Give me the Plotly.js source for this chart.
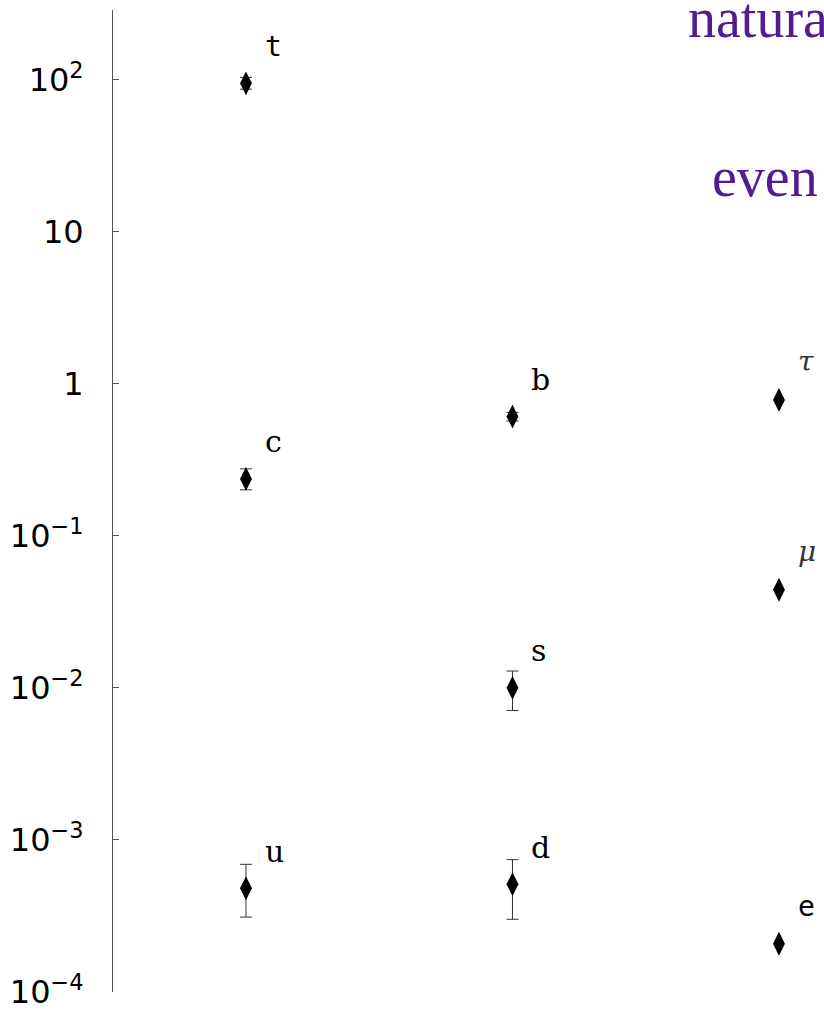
<!DOCTYPE html>
<html>
<head>
<meta charset="utf-8">
<script src="https://cdn.plot.ly/plotly-3.0.1.min.js"></script>
<style>html,body{margin:0;padding:0;background:#fff;}#chart{width:824px;height:1009px;}</style>
</head>
<body>
<div id="chart"></div>
<script>
// Quarks (with error bars)
const quarkNames = ['t', 'c', 'u', 'b', 's', 'd'];
const quarkColumn = [1, 1, 1, 2, 2, 2];
const quarkMass = [95, 0.237, 0.00048, 0.61, 0.0100, 0.00051];
const quarkErrPlus = [9, 0.039, 0.00021, 0.04, 0.0029, 0.00023];
const quarkErrMinus = [8, 0.036, 0.00017, 0.04, 0.0029, 0.00021];

// Leptons (no error bars)
const leptonNames = ['τ', 'μ', 'e'];
const leptonColumn = [3, 3, 3];
const leptonMass = [0.785, 0.0442, 0.000207];

// Axis ticks
const tickValues = [100, 10, 1, 0.1, 0.01, 0.001, 0.0001];
const tickLabels = ['10<sup>2</sup>', '10', '1', '10<sup>−1</sup>', '10<sup>−2</sup>', '10<sup>−3</sup>', '10<sup>−4</sup>'];

// Overlay words
const overlayWords = ['natural', 'even'];

const quarkFonts = {t: 'DejaVu Sans Mono', c: 'DejaVu Serif', u: 'DejaVu Serif', b: 'DejaVu Serif', s: 'DejaVu Serif', d: 'DejaVu Serif'};

const traces = [
  {
    x: quarkColumn, y: quarkMass, type: 'scatter', mode: 'markers',
    marker: {symbol: 'diamond-tall', size: 17, color: '#000'},
    error_y: {type: 'data', symmetric: false, array: quarkErrPlus, arrayminus: quarkErrMinus,
              color: '#333', thickness: 1, width: 6},
    hoverinfo: 'skip', showlegend: false, cliponaxis: false
  },
  {
    x: leptonColumn, y: leptonMass, type: 'scatter', mode: 'markers',
    marker: {symbol: 'diamond-tall', size: 17, color: '#000'},
    hoverinfo: 'skip', showlegend: false, cliponaxis: false
  }
];

const annotations = [];
quarkNames.forEach((n, i) => {
  annotations.push({x: quarkColumn[i], y: Math.log10(quarkMass[i]), text: n, showarrow: false,
    xanchor: 'left', yanchor: 'middle', xshift: 17, yshift: 37,
    font: {family: quarkFonts[n], size: n === 't' ? 28 : 30, color: '#000'}});
});
leptonNames.forEach((n, i) => {
  const isGreek = n !== 'e';
  annotations.push({x: leptonColumn[i], y: Math.log10(leptonMass[i]), text: isGreek ? '<i>' + n + '</i>' : n, showarrow: false,
    xanchor: 'left', yanchor: 'middle', xshift: 17, yshift: isGreek ? 38 : 37,
    font: {family: isGreek ? 'DejaVu Serif' : 'DejaVu Sans Mono', size: 28, color: isGreek ? '#333' : '#000'}});
});
annotations.push({xref: 'paper', yref: 'paper', x: (686 - 113) / 711, y: (1009 - 17 - 38) / 982, text: overlayWords[0],
  showarrow: false, xanchor: 'left', yanchor: 'bottom', yshift: -13,
  font: {family: 'Liberation Serif', size: 56, color: '#521b92'}});
annotations.push({xref: 'paper', yref: 'paper', x: (710 - 113) / 711, y: (1009 - 17 - 197) / 982, text: overlayWords[1],
  showarrow: false, xanchor: 'left', yanchor: 'bottom', yshift: -13,
  font: {family: 'Liberation Serif', size: 56, color: '#521b92'}});

const layout = {
  width: 824, height: 1009,
  margin: {l: 113, r: 0, t: 10, b: 17, pad: 0},
  paper_bgcolor: '#fff', plot_bgcolor: '#fff',
  showlegend: false,
  xaxis: {range: [0.501, 3.169], visible: false, fixedrange: true},
  yaxis: {type: 'log', range: [-4.0015, 2.4605], showgrid: false, zeroline: false,
    showline: true, linecolor: '#555', linewidth: 1,
    ticks: 'inside', ticklen: 6, tickcolor: '#555', tickwidth: 1,
    tickvals: tickValues, ticktext: tickLabels, ticklabelstandoff: 22,
    ticklabeloverflow: 'allow',
    tickfont: {family: 'DejaVu Sans', size: 32, color: '#000'}},
  annotations: annotations
};

Plotly.newPlot('chart', traces, layout, {displayModeBar: false, staticPlot: true});
</script>
</body>
</html>
